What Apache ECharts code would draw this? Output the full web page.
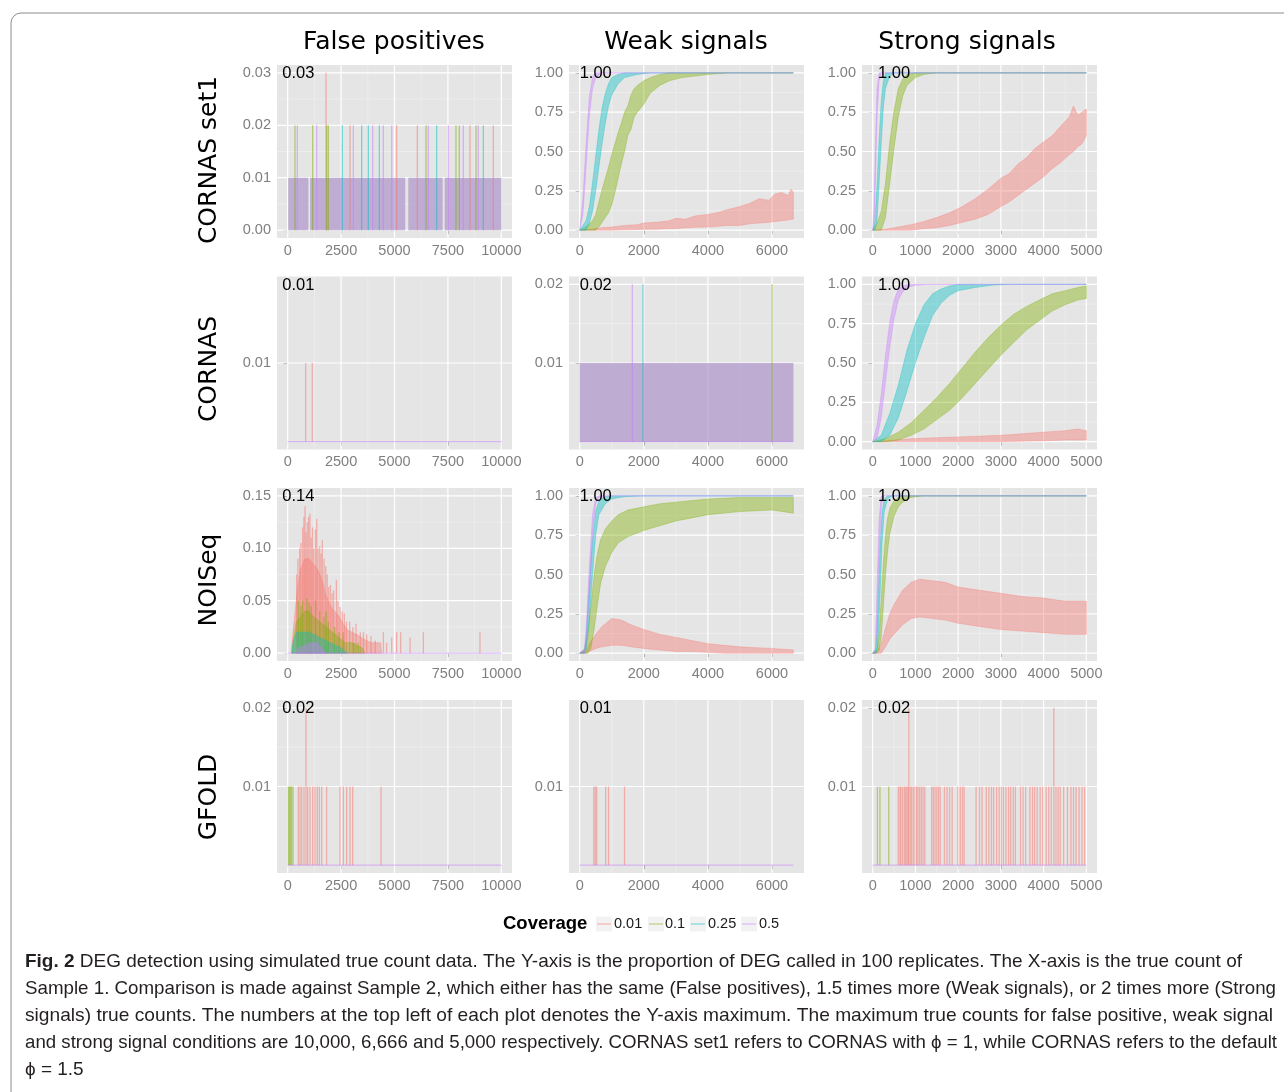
<!DOCTYPE html>
<html>
<head>
<meta charset="utf-8">
<script src="https://cdn.jsdelivr.net/npm/echarts@6/dist/echarts.min.js"></script>
<style>
  html, body { margin: 0; padding: 0; background: #fff; }
  #main { width: 1284px; height: 1092px; }
</style>
</head>
<body>
<div id="main"></div>
<script>
// ---------- data ----------
const coverage = ['0.01', '0.1', '0.25', '0.5'];
const covColors = ['#F8766D', '#7CAE00', '#00BFC4', '#C77CFF'];
const methods = ['CORNAS set1', 'CORNAS', 'NOISeq', 'GFOLD'];
const conditions = ['False positives', 'Weak signals', 'Strong signals'];
const maxCount = [10000, 6666, 5000];
const xTicks = [
  [0, 2500, 5000, 7500, 10000],
  [0, 2000, 4000, 6000],
  [0, 1000, 2000, 3000, 4000, 5000]
];
// upper y limit of each panel, row by row
const yLimits = [[0.03, 1, 1], [0.02, 0.02, 1], [0.15, 1, 1], [0.02, 0.02, 0.02]];
// numbers printed at the top left of each panel (Y maximum)
const yMaxText = [['0.03', '1.00', '1.00'], ['0.01', '0.02', '1.00'], ['0.14', '1.00', '1.00'], ['0.02', '0.01', '0.02']];
const yTicks = [
  [[0, 0.01, 0.02, 0.03], [0, 0.25, 0.5, 0.75, 1], [0, 0.25, 0.5, 0.75, 1]],
  [[0.01], [0.01, 0.02], [0, 0.25, 0.5, 0.75, 1]],
  [[0, 0.05, 0.1, 0.15], [0, 0.25, 0.5, 0.75, 1], [0, 0.25, 0.5, 0.75, 1]],
  [[0.01, 0.02], [0.01], [0.01, 0.02]]
];

// bands: [true count, low, high] of the noisy proportion curves
const set1WeakCov001 = [[0,0,0],[300,0,0.005],[700,0,0.015],[1000,0,0.02],[1400,0.002,0.03],[1800,0.004,0.035],[2000,0.005,0.045],[2400,0.006,0.05],[2800,0.01,0.06],[3000,0.01,0.075],[3300,0.015,0.07],[3600,0.018,0.09],[4000,0.02,0.1],[4300,0.025,0.11],[4600,0.03,0.13],[5000,0.03,0.15],[5300,0.04,0.17],[5600,0.045,0.2],[5900,0.05,0.19],[6100,0.055,0.23],[6300,0.06,0.24],[6500,0.065,0.22],[6600,0.07,0.26],[6666,0.07,0.24]];
const set1WeakCov01 = [[0,0,0],[200,0,0.02],[400,0,0.06],[500,0,0.1],[600,0.02,0.18],[700,0.05,0.26],[800,0.08,0.33],[900,0.11,0.4],[1000,0.16,0.48],[1100,0.24,0.55],[1200,0.33,0.62],[1300,0.42,0.68],[1400,0.5,0.75],[1500,0.6,0.79],[1600,0.64,0.86],[1700,0.72,0.9],[1800,0.75,0.92],[2000,0.8,0.95],[2200,0.87,0.97],[2500,0.92,0.99],[2800,0.95,1],[3200,0.97,1],[3600,0.98,1],[4000,0.99,1],[4700,1,1],[6666,1,1]];
const set1WeakCov025 = [[0,0,0],[200,0,0.06],[300,0.04,0.15],[400,0.12,0.3],[500,0.25,0.47],[600,0.4,0.64],[700,0.55,0.78],[800,0.68,0.87],[900,0.79,0.93],[1000,0.86,0.97],[1200,0.93,0.99],[1400,0.97,1],[1800,0.99,1],[2200,1,1],[6666,1,1]];
const set1WeakCov05 = [[0,0,0],[100,0.1,0.2],[200,0.4,0.55],[300,0.72,0.85],[400,0.9,0.97],[500,0.97,1],[700,1,1],[6666,1,1]];

const set1StrongCov001 = [[0,0,0],[300,0,0.005],[600,0,0.02],[900,0,0.035],[1200,0.01,0.055],[1500,0.015,0.08],[1800,0.03,0.11],[2100,0.05,0.15],[2400,0.07,0.2],[2700,0.1,0.26],[3000,0.15,0.33],[3200,0.18,0.36],[3400,0.22,0.42],[3600,0.26,0.46],[3800,0.3,0.52],[4000,0.34,0.56],[4200,0.39,0.6],[4400,0.43,0.66],[4600,0.48,0.72],[4700,0.5,0.79],[4800,0.53,0.73],[4900,0.55,0.75],[5000,0.6,0.77]];
const set1StrongCov01 = [[0,0,0],[100,0,0.04],[200,0,0.12],[300,0.08,0.3],[400,0.3,0.56],[500,0.52,0.76],[600,0.72,0.9],[700,0.85,0.96],[800,0.92,0.99],[1000,0.97,1],[1200,0.99,1],[1500,1,1],[5000,1,1]];
const set1StrongCov025 = [[0,0,0],[50,0,0.05],[100,0.05,0.28],[150,0.3,0.58],[200,0.55,0.82],[250,0.78,0.95],[300,0.9,1],[400,0.98,1],[500,1,1],[5000,1,1]];
const set1StrongCov05 = [[0,0,0],[30,0.02,0.15],[60,0.25,0.5],[100,0.7,0.9],[150,0.95,1],[200,1,1],[5000,1,1]];

const cornasStrongCov001 = [[0,0,0],[500,0,0.01],[1000,0,0.02],[2000,0,0.03],[3000,0,0.04],[4000,0.005,0.06],[4500,0.01,0.07],[4800,0.01,0.08],[5000,0.01,0.07]];
const cornasStrongCov01 = [[0,0,0],[300,0,0.02],[600,0.01,0.06],[900,0.04,0.12],[1200,0.08,0.2],[1500,0.14,0.28],[1800,0.2,0.37],[2100,0.28,0.47],[2400,0.37,0.57],[2700,0.46,0.66],[3000,0.55,0.74],[3300,0.63,0.81],[3600,0.71,0.86],[3900,0.77,0.9],[4200,0.83,0.94],[4500,0.87,0.96],[4800,0.9,0.98],[5000,0.91,0.99]];
const cornasStrongCov025 = [[0,0,0],[200,0,0.04],[400,0.04,0.18],[600,0.15,0.36],[800,0.32,0.58],[1000,0.5,0.75],[1200,0.66,0.87],[1400,0.8,0.94],[1600,0.88,0.97],[1800,0.93,0.99],[2000,0.96,1],[2400,0.98,1],[2800,0.995,1],[3200,1,1],[5000,1,1]];
const cornasStrongCov05 = [[0,0,0],[100,0.02,0.1],[200,0.15,0.3],[300,0.38,0.55],[400,0.6,0.76],[500,0.78,0.9],[600,0.9,0.97],[700,0.95,0.99],[800,0.98,1],[1000,0.995,1],[1300,1,1],[5000,1,1]];

const noiseqWeakCov001 = [[0,0,0],[200,0,0.01],[300,0.01,0.06],[500,0.03,0.12],[700,0.04,0.17],[1000,0.05,0.22],[1300,0.05,0.21],[1600,0.04,0.18],[2000,0.03,0.15],[2500,0.02,0.12],[3000,0.01,0.1],[3500,0.01,0.08],[4000,0.005,0.06],[4500,0,0.05],[5000,0,0.04],[5500,0,0.035],[6000,0,0.03],[6666,0,0.02]];
const noiseqWeakCov01 = [[0,0,0],[150,0,0.02],[250,0,0.12],[350,0.03,0.3],[450,0.15,0.5],[550,0.3,0.63],[650,0.44,0.72],[800,0.55,0.79],[1000,0.64,0.84],[1200,0.7,0.88],[1500,0.74,0.91],[2000,0.78,0.93],[2500,0.81,0.95],[3000,0.84,0.96],[3500,0.86,0.97],[4000,0.88,0.98],[5000,0.9,0.99],[6000,0.91,0.99],[6666,0.89,0.99]];
const noiseqWeakCov025 = [[0,0,0],[150,0,0.02],[200,0.02,0.1],[300,0.2,0.42],[400,0.5,0.72],[500,0.75,0.9],[600,0.88,0.97],[800,0.95,0.995],[1000,0.98,1],[1400,0.995,1],[2000,1,1],[6666,1,1]];
const noiseqWeakCov05 = [[0,0,0],[150,0,0.03],[200,0.05,0.15],[300,0.35,0.55],[400,0.75,0.88],[500,0.95,0.99],[600,0.99,1],[800,1,1],[6666,1,1]];

const noiseqStrongCov001 = [[0,0,0],[100,0,0.01],[200,0,0.06],[300,0.04,0.16],[400,0.09,0.25],[500,0.12,0.31],[700,0.18,0.4],[900,0.22,0.45],[1100,0.23,0.47],[1400,0.22,0.46],[1700,0.21,0.45],[2000,0.19,0.42],[2500,0.17,0.4],[3000,0.15,0.38],[3500,0.14,0.36],[4000,0.13,0.35],[4500,0.12,0.33],[5000,0.12,0.33]];
const noiseqStrongCov01 = [[0,0,0],[100,0,0.02],[150,0.02,0.12],[200,0.1,0.35],[250,0.3,0.58],[300,0.5,0.75],[350,0.65,0.86],[400,0.76,0.92],[500,0.87,0.97],[600,0.93,0.99],[700,0.96,1],[900,0.99,1],[1200,1,1],[5000,1,1]];
const noiseqStrongCov025 = [[0,0,0],[80,0,0.03],[120,0.05,0.25],[170,0.35,0.65],[220,0.7,0.9],[270,0.9,0.98],[350,0.98,1],[450,1,1],[5000,1,1]];
const noiseqStrongCov05 = [[0,0,0],[60,0,0.02],[100,0.15,0.4],[150,0.6,0.85],[200,0.93,1],[250,1,1],[5000,1,1]];

// false positive panels: blocks [from, to, height], spikes [count, height], dense parts as bands
const set1FpBlocks = [[30,965,0.01],[1050,5500,0.01],[5650,7250,0.01],[7350,10000,0.01]];
const set1FpSpikesCov001 = [[1794,0.03],[2917,0.02],[5102,0.02],[6068,0.02],[8533,0.02],[9626,0.02]];
const set1FpSpikesCov01 = [[342,0.02],[1170,0.02],[1825,0.02],[1903,0.02],[6474,0.02],[7878,0.02],[8034,0.02],[8814,0.02]];
const set1FpSpikesCov025 = [[2558,0.02],[3463,0.02],[3775,0.02],[4290,0.02],[6974,0.02],[9158,0.02]];
const set1FpSpikesCov05 = [[449,0.02],[1357,0.02],[3073,0.02],[3979,0.02],[4477,0.02],[4868,0.02],[6583,0.02],[7519,0.02],[8221,0.02],[8923,0.02]];

const cornasFpSpikesCov001 = [[842,0.01],[1152,0.01]];
const cornasWeakBlocks = [[0,6666,0.01]];
const cornasWeakSpikesCov01 = [[6000,0.02]];
const cornasWeakSpikesCov025 = [[1976,0.02]];
const cornasWeakSpikesCov05 = [[1643,0.02]];

const noiseqFpCov001 = [[150,0,0],[200,0,0.01],[300,0,0.03],[450,0,0.06],[600,0,0.08],[800,0,0.09],[1000,0,0.09],[1200,0,0.085],[1400,0,0.08],[1600,0,0.07],[1800,0,0.055],[2000,0,0.045],[2200,0,0.04],[2400,0,0.035],[2600,0,0.028],[2800,0,0.022],[3000,0,0.02],[3300,0,0.017],[3600,0,0.013],[3900,0,0.01],[4350,0,0.01],[4400,0,0]];
const noiseqFpSpikesCov001 = [[420,0.075],[480,0.09],[560,0.1],[620,0.105],[700,0.12],[760,0.13],[810,0.14],[860,0.115],[920,0.125],[980,0.13],[1040,0.133],[1100,0.11],[1160,0.12],[1220,0.1],[1300,0.118],[1360,0.128],[1420,0.1],[1500,0.102],[1560,0.095],[1620,0.108],[1700,0.09],[1780,0.083],[1850,0.075],[1920,0.063],[2000,0.065],[2080,0.057],[2150,0.06],[2280,0.07],[2350,0.05],[2450,0.044],[2550,0.04],[2650,0.038],[2750,0.03],[2900,0.03],[3050,0.025],[3200,0.028],[3400,0.02],[3550,0.02],[3700,0.018],[3900,0.016],[4100,0.012],[4480,0.02],[4630,0.01],[4870,0.015],[5100,0.02],[5290,0.02],[5730,0.015],[6350,0.02],[9000,0.02]];
const noiseqFpCov01 = [[200,0,0],[250,0,0.01],[400,0,0.03],[600,0,0.035],[800,0,0.04],[1000,0,0.04],[1200,0,0.035],[1500,0,0.03],[1800,0,0.025],[2100,0,0.02],[2400,0,0.015],[2700,0,0.01],[3000,0,0.01],[3500,0,0.005],[3600,0,0]];
const noiseqFpSpikesCov01 = [[500,0.05],[620,0.045],[700,0.05],[900,0.052],[1000,0.048],[1100,0.045],[1300,0.05],[1500,0.04],[1700,0.035],[1800,0.04],[1900,0.03],[2200,0.025],[2400,0.02],[2600,0.02],[3100,0.01],[3300,0.01]];
const noiseqFpCov025 = [[200,0,0],[250,0,0.01],[400,0,0.02],[1000,0,0.02],[1500,0,0.015],[2000,0,0.01],[2500,0,0.005],[2800,0,0]];
const noiseqFpCov05 = [[400,0,0],[500,0,0.005],[1100,0,0.01],[1400,0,0.01],[1600,0,0.005],[1800,0,0]];

const gfoldFpSpikesCov001 = [[497,0.01],[576,0.01],[654,0.01],[763,0.01],[857,0.02],[935,0.01],[1044,0.01],[1170,0.01],[1279,0.01],[1388,0.01],[1482,0.01],[1591,0.01],[1825,0.01],[2450,0.01],[2606,0.01],[2762,0.01],[2918,0.01],[3043,0.01],[4367,0.01]];
const gfoldFpSpikesCov01 = [[30,0.01],[80,0.01],[130,0.01],[180,0.01],[250,0.01]];
const gfoldWeakSpikesCov001 = [[440,0.01],[490,0.01],[530,0.01],[810,0.01],[900,0.01],[1400,0.01]];
const gfoldStrongSpikesCov01 = [[110,0.01],[170,0.01],[376,0.01]];
const gfoldStrongSpikesCov001 = [[600,0.01],[640,0.01],[660,0.01],[700,0.01],[740,0.01],[770,0.01],[800,0.01],[830,0.01],[846,0.02],[880,0.01],[910,0.01],[950,0.01],[990,0.01],[1030,0.01],[1060,0.01],[1100,0.01],[1140,0.01],[1180,0.01],[1220,0.01],[1380,0.01],[1420,0.01],[1460,0.01],[1500,0.01],[1540,0.01],[1580,0.01],[1680,0.01],[1740,0.01],[1800,0.01],[1860,0.01],[1990,0.01],[2050,0.01],[2100,0.01],[2140,0.01],[2420,0.01],[2500,0.01],[2560,0.01],[2660,0.01],[2720,0.01],[2780,0.01],[2830,0.01],[2900,0.01],[2960,0.01],[3010,0.01],[3060,0.01],[3120,0.01],[3180,0.01],[3230,0.01],[3290,0.01],[3340,0.01],[3460,0.01],[3520,0.01],[3580,0.01],[3680,0.01],[3740,0.01],[3790,0.01],[3850,0.01],[3920,0.01],[3980,0.01],[4060,0.01],[4120,0.01],[4180,0.01],[4240,0.02],[4290,0.01],[4340,0.01],[4390,0.01],[4470,0.01],[4560,0.01],[4640,0.01],[4700,0.01],[4760,0.01],[4830,0.01],[4900,0.01],[4960,0.01]];

// flat zero line of every false positive panel
const fpBaseline = [
  [[0,0,0],[10000,0,0]],
  [[0,0,0],[6666,0,0]],
  [[0,0,0],[5000,0,0]]
];

const captionLines = [
  'DEG detection using simulated true count data. The Y-axis is the proportion of DEG called in 100 replicates. The X-axis is the true count of',
  'Sample 1. Comparison is made against Sample 2, which either has the same (False positives), 1.5 times more (Weak signals), or 2 times more (Strong',
  'signals) true counts. The numbers at the top left of each plot denotes the Y-axis maximum. The maximum true counts for false positive, weak signal',
  'and strong signal conditions are 10,000, 6,666 and 5,000 respectively. CORNAS set1 refers to CORNAS with \u03d5 = 1, while CORNAS refers to the default',
  '\u03d5 = 1.5'
];

// ---------- layout ----------
const gridLeft = [277, 569, 862];
const gridTop = [65, 276.5, 488, 700];
const panelW = 235, panelH = 173;
const titleX = [394, 686, 967];
const rowLabelY = [160, 369, 580, 797];
const blockAlpha = [0.15, 0.15, 0.15, 0.4];

// what goes into each panel, in drawing order
const panelLayers = [
  [
    [['blocks', set1FpBlocks, 0], ['blocks', set1FpBlocks, 1], ['blocks', set1FpBlocks, 2], ['blocks', set1FpBlocks, 3],
     ['spikes', set1FpSpikesCov001, 0], ['spikes', set1FpSpikesCov01, 1], ['spikes', set1FpSpikesCov025, 2], ['spikes', set1FpSpikesCov05, 3]],
    [['band', set1WeakCov001, 0], ['band', set1WeakCov01, 1], ['band', set1WeakCov025, 2], ['band', set1WeakCov05, 3]],
    [['band', set1StrongCov001, 0], ['band', set1StrongCov01, 1], ['band', set1StrongCov025, 2], ['band', set1StrongCov05, 3]]
  ],
  [
    [['spikes', cornasFpSpikesCov001, 0], ['band', fpBaseline[0], 3]],
    [['blocks', cornasWeakBlocks, 0], ['blocks', cornasWeakBlocks, 1], ['blocks', cornasWeakBlocks, 2], ['blocks', cornasWeakBlocks, 3],
     ['spikes', cornasWeakSpikesCov01, 1], ['spikes', cornasWeakSpikesCov025, 2], ['spikes', cornasWeakSpikesCov05, 3], ['band', fpBaseline[1], 3]],
    [['band', cornasStrongCov001, 0], ['band', cornasStrongCov01, 1], ['band', cornasStrongCov025, 2], ['band', cornasStrongCov05, 3]]
  ],
  [
    [['band', noiseqFpCov001, 0], ['spikes', noiseqFpSpikesCov001, 0], ['band', noiseqFpCov01, 1], ['spikes', noiseqFpSpikesCov01, 1],
     ['band', noiseqFpCov025, 2], ['band', noiseqFpCov05, 3], ['band', fpBaseline[0], 3]],
    [['band', noiseqWeakCov001, 0], ['band', noiseqWeakCov01, 1], ['band', noiseqWeakCov025, 2], ['band', noiseqWeakCov05, 3]],
    [['band', noiseqStrongCov001, 0], ['band', noiseqStrongCov01, 1], ['band', noiseqStrongCov025, 2], ['band', noiseqStrongCov05, 3]]
  ],
  [
    [['spikes', gfoldFpSpikesCov001, 0], ['spikes', gfoldFpSpikesCov01, 1], ['band', fpBaseline[0], 3]],
    [['spikes', gfoldWeakSpikesCov001, 0], ['band', fpBaseline[1], 3]],
    [['spikes', gfoldStrongSpikesCov001, 0], ['spikes', gfoldStrongSpikesCov01, 1], ['band', fpBaseline[2], 3]]
  ]
];

function fade(cov, a) {
  const h = covColors[cov];
  const r = parseInt(h.slice(1, 3), 16), g = parseInt(h.slice(3, 5), 16), b = parseInt(h.slice(5, 7), 16);
  return 'rgba(' + r + ',' + g + ',' + b + ',' + a + ')';
}

function mids(ticks) {
  const out = [];
  for (let k = 1; k < ticks.length; k++) out.push((ticks[k - 1] + ticks[k]) / 2);
  return out;
}

function gridLineSeries(i, xMaj, yMaj) {
  const xMin = mids(xMaj), yMin = mids(yMaj);
  return {
    type: 'custom', xAxisIndex: i, yAxisIndex: i, z: 1, silent: true,
    data: [[0, 0]],
    renderItem: function (params, api) {
      const cs = params.coordSys;
      const children = [];
      const vline = (v, color, w) => {
        const x = api.coord([v, 0])[0];
        children.push({ type: 'line', shape: { x1: x, y1: cs.y, x2: x, y2: cs.y + cs.height }, style: { stroke: color, lineWidth: w } });
      };
      const hline = (v, color, w) => {
        const y = api.coord([0, v])[1];
        children.push({ type: 'line', shape: { x1: cs.x, y1: y, x2: cs.x + cs.width, y2: y }, style: { stroke: color, lineWidth: w } });
      };
      xMin.forEach(v => vline(v, '#F2F2F2', 0.6));
      yMin.forEach(v => hline(v, '#F2F2F2', 0.6));
      xMaj.forEach(v => vline(v, '#FFFFFF', 1.2));
      yMaj.forEach(v => hline(v, '#FFFFFF', 1.2));
      return { type: 'group', children: children };
    }
  };
}

function bandSeries(i, pts, cov) {
  return {
    type: 'custom', xAxisIndex: i, yAxisIndex: i, z: 2, silent: true,
    name: coverage[cov], data: pts, encode: { x: 0, y: 1 },
    renderItem: function (params, api) {
      if (params.dataIndex !== 0) return null;
      const top = pts.map(p => api.coord([p[0], p[2]]));
      const bottom = pts.slice().reverse().map(p => api.coord([p[0], p[1]]));
      return {
        type: 'polygon', shape: { points: top.concat(bottom) },
        style: { fill: fade(cov, 0.4), stroke: fade(cov, 0.4), lineWidth: 0.8 }
      };
    }
  };
}

function spikeSeries(i, pts, cov) {
  return {
    type: 'custom', xAxisIndex: i, yAxisIndex: i, z: 2, silent: true,
    name: coverage[cov], data: pts, encode: { x: 0, y: 1 },
    renderItem: function (params, api) {
      const a = api.coord([api.value(0), 0]);
      const b = api.coord([api.value(0), api.value(1)]);
      return { type: 'line', shape: { x1: a[0], y1: a[1], x2: b[0], y2: b[1] }, style: { stroke: fade(cov, 0.5), lineWidth: 1.3 } };
    }
  };
}

function blockSeries(i, pts, cov) {
  return {
    type: 'custom', xAxisIndex: i, yAxisIndex: i, z: 2, silent: true,
    name: coverage[cov], data: pts, encode: { x: [0, 1], y: 2 },
    renderItem: function (params, api) {
      const a = api.coord([api.value(0), api.value(2)]);
      const b = api.coord([api.value(1), 0]);
      return { type: 'rect', shape: { x: a[0], y: a[1], width: b[0] - a[0], height: b[1] - a[1] }, style: { fill: fade(cov, blockAlpha[cov]) } };
    }
  };
}

function labelSeries(i, yLim, text) {
  return {
    type: 'custom', xAxisIndex: i, yAxisIndex: i, z: 5, silent: true,
    data: [[500, yLim]],
    renderItem: function (params, api) {
      const p = api.coord([500, yLim]);
      return {
        type: 'text', x: p[0], y: p[1] + 1,
        style: { text: text, fill: '#000', fontSize: 16.5, fontFamily: 'Liberation Sans', align: 'center', verticalAlign: 'middle' }
      };
    }
  };
}

const grids = [], xAxes = [], yAxes = [], series = [];
for (let r = 0; r < 4; r++) {
  for (let c = 0; c < 3; c++) {
    const i = grids.length;
    const xPad = maxCount[c] * 0.05;
    const yLim = yLimits[r][c], yPad = yLim * 0.05;
    grids.push({
      left: gridLeft[c], top: gridTop[r], width: panelW, height: panelH,
      show: true, backgroundColor: '#E5E5E5', borderWidth: 0, outerBoundsMode: 'none'
    });
    xAxes.push({
      type: 'value', gridIndex: i, min: -xPad, max: maxCount[c] + xPad,
      splitLine: { show: false }, axisLine: { show: false },
      axisTick: { show: true, length: 4, customValues: xTicks[c], lineStyle: { color: '#7F7F7F', width: 1 } },
      axisLabel: {
        customValues: xTicks[c], color: '#7F7F7F', fontSize: 14.5, fontFamily: 'Liberation Sans', margin: 5,
        formatter: v => String(Math.round(v))
      }
    });
    yAxes.push({
      type: 'value', gridIndex: i, min: -yPad, max: yLim + yPad,
      splitLine: { show: false }, axisLine: { show: false },
      axisTick: { show: true, length: 4, customValues: yTicks[r][c], lineStyle: { color: '#7F7F7F', width: 1 } },
      axisLabel: {
        customValues: yTicks[r][c], color: '#7F7F7F', fontSize: 14.5, fontFamily: 'Liberation Sans', margin: 6,
        formatter: v => v.toFixed(2)
      }
    });
    series.push(gridLineSeries(i, xTicks[c], yTicks[r][c]));
    panelLayers[r][c].forEach(layer => {
      const kind = layer[0], pts = layer[1], cov = layer[2];
      if (kind === 'band') series.push(bandSeries(i, pts, cov));
      else if (kind === 'spikes') series.push(spikeSeries(i, pts, cov));
      else series.push(blockSeries(i, pts, cov));
    });
    series.push(labelSeries(i, yLim, yMaxText[r][c]));
  }
}

// ---------- texts around the panels ----------
const graphics = [];
graphics.push({
  type: 'rect', left: 8.5, top: 10.5, silent: true,
  shape: { x: 0, y: 0, width: 1300, height: 1100, r: 10 },
  style: { fill: 'none', stroke: '#8C8C8C', lineWidth: 1 }
});
conditions.forEach((t, c) => {
  graphics.push({
    type: 'text', x: titleX[c], y: 42, silent: true,
    style: { text: t, fill: '#000', fontSize: 25, fontFamily: 'DejaVu Sans', align: 'center', verticalAlign: 'middle' }
  });
});
methods.forEach((t, r) => {
  graphics.push({
    type: 'text', x: 209, y: rowLabelY[r], rotation: Math.PI / 2, silent: true,
    style: { text: t, fill: '#000', fontSize: 25, fontFamily: 'DejaVu Sans', align: 'center', verticalAlign: 'middle' }
  });
});

// legend
const keyX = [596, 648, 690, 741];
const keyLabelX = [614, 665, 708, 759];
graphics.push({
  type: 'text', x: 503, y: 924, silent: true,
  style: { text: 'Coverage', fill: '#000', fontSize: 18.5, fontWeight: 'bold', fontFamily: 'Liberation Sans', verticalAlign: 'middle' }
});
coverage.forEach((name, k) => {
  graphics.push({ type: 'rect', silent: true, shape: { x: keyX[k], y: 916.5, width: 16, height: 15 }, style: { fill: '#F2F2F2' } });
  graphics.push({ type: 'line', silent: true, shape: { x1: keyX[k] + 1, y1: 924, x2: keyX[k] + 15, y2: 924 }, style: { stroke: fade(k, 0.4), lineWidth: 1.5 } });
  graphics.push({
    type: 'text', x: keyLabelX[k], y: 924, silent: true,
    style: { text: name, fill: '#1A1A1A', fontSize: 14.5, fontFamily: 'Liberation Sans', verticalAlign: 'middle' }
  });
});

// caption, each line squeezed to the width it has in the figure
const capFont = 'Liberation Sans';
const capSize = 19;
const capLeft = 25;
const capEnds = [1242, 1276, 1273, 1277];
const capY = [962, 989, 1016, 1043, 1070];
const mctx = document.createElement('canvas').getContext('2d');
function measure(text, weight) {
  mctx.font = weight + ' ' + capSize + 'px ' + capFont;
  return mctx.measureText(text).width;
}
const boldPart = 'Fig. 2';
const wBold = measure(boldPart, 'bold');
const wFirst = measure(' ' + captionLines[0], 'normal');
const s1 = (capEnds[0] - capLeft) / (wBold + wFirst);
function capText(x, y, text, weight, sx) {
  return {
    type: 'text', x: x, y: y, scaleX: sx, silent: true,
    style: { text: text, fill: '#231F20', fontSize: capSize, fontFamily: capFont, fontWeight: weight, verticalAlign: 'middle' }
  };
}
graphics.push(capText(capLeft, capY[0], boldPart, 'bold', s1));
graphics.push(capText(capLeft + wBold * s1, capY[0], ' ' + captionLines[0], 'normal', s1));
for (let k = 1; k < 4; k++) {
  const s = (capEnds[k] - capLeft) / measure(captionLines[k], 'normal');
  graphics.push(capText(capLeft, capY[k], captionLines[k], 'normal', s));
}
graphics.push(capText(capLeft, capY[4], captionLines[4], 'normal', s1));

const chart = echarts.init(document.getElementById('main'));
chart.setOption({
  animation: false,
  backgroundColor: '#FFFFFF',
  grid: grids,
  xAxis: xAxes,
  yAxis: yAxes,
  series: series,
  graphic: graphics
});
</script>
</body>
</html>
